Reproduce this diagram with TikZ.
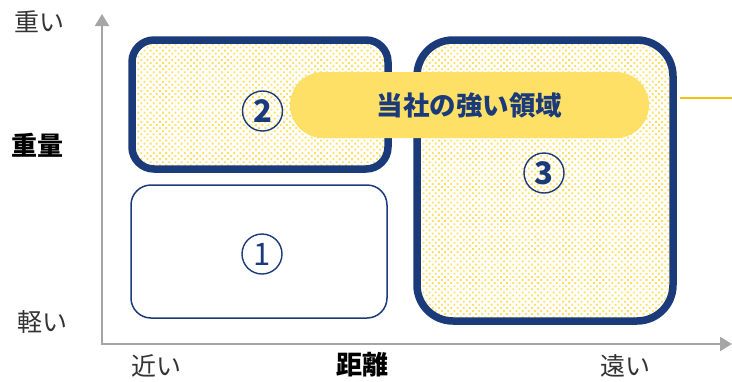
\documentclass[tikz,border=0pt]{standalone}
\usepackage{fontspec}
\setmainfont{Noto Sans CJK JP}
\usetikzlibrary{arrows.meta}
\definecolor{navy}{HTML}{1B3A7A}
\definecolor{pillc}{HTML}{FFE066}
\definecolor{dotc}{HTML}{FFDF5A}
\definecolor{linec}{HTML}{F7C10A}
\definecolor{axisc}{HTML}{A6A6A6}
\definecolor{txtc}{HTML}{333333}
\tikzset{
  axis/.style={draw=axisc, line width=2.2pt, -{Triangle[length=12pt,width=14pt]}},
  thickbox/.style={draw=navy, line width=7.5pt},
  thinbox/.style={draw=navy, line width=1.5pt},
  axlabel/.style={text=txtc, font=\fontsize{25}{25}\selectfont, inner sep=0pt},
  axtitle/.style={text=black, font=\fontsize{26}{26}\selectfont\bfseries, inner sep=0pt},
  numcirc/.style={circle, draw=navy, line width=1.4pt, minimum size=40pt, inner sep=0pt, text=navy},
  pill/.style={fill=pillc, rounded corners=33pt, minimum width=359pt, minimum height=66pt, inner sep=0pt, text=navy, font=\fontsize{26.5}{26.5}\selectfont\bfseries}
}
\begin{document}
\begin{tikzpicture}[x=1pt,y=-1pt]
\useasboundingbox (0,0) rectangle (732,381);
% axes
\coordinate (O) at (102,344);
\coordinate (ytip) at (102,14);
\coordinate (xtip) at (732,344);
\draw[axis] (O) -- (ytip);
\draw[axis] ([xshift=-1.1pt]O) -- (xtip);
% dots
\begin{scope}
\clip[rounded corners=22pt] (132,40) rectangle (388,169) [rounded corners=36pt] (417,40) rectangle (673,321);
\foreach \j in {0,...,94} {
  \pgfmathsetmacro\off{mod(\j,2)*3.1}
  \fill[dotc] \foreach \i in {0,...,90} {({128+\i*6.2+\off},{36+\j*3.1}) rectangle ++(1.8,-1.8)};
}
\end{scope}
% boxes
\draw[thickbox, rounded corners=22pt] (132,40) rectangle (388,169);
\draw[thinbox, rounded corners=20pt] (131,185) rectangle (387,318);
\draw[thickbox, rounded corners=36pt] (417,40) rectangle (673,321);
% yellow line
\coordinate (l1) at (680,98);
\coordinate (l2) at (732,98);
\draw[linec, line width=2.2pt] (l1) -- (l2);
% pill
\node[pill] (p) at (469.5,105) {当社の強い領域};
% numbers
\node[numcirc, font=\fontsize{31}{31}\selectfont\bfseries] (n2) at (262.5,111) {2};
\node[numcirc, font=\fontsize{31}{31}\selectfont\bfseries] (n3) at (544,173) {3};
\node[numcirc, font=\fontsize{31}{31}\selectfont] (n1) at (262,254) {1};
% labels
\node[axlabel] (heavy) at (40,22) {重い};
\node[axtitle] (wt) at (38,145) {重量};
\node[axlabel] (light) at (42,322) {軽い};
\node[axlabel] (near) at (156,366) {近い};
\node[axtitle] (dist) at (362,365) {距離};
\node[axlabel] (far) at (625,366) {遠い};
\end{tikzpicture}
\end{document}
